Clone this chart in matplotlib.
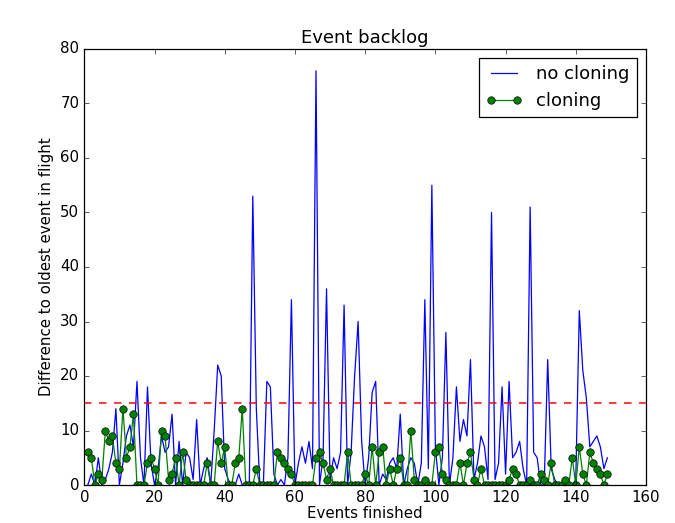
import matplotlib
matplotlib.use("Agg")
import matplotlib.pyplot as plt

plt.style.use("classic")

events = list(range(1, 150))

no_cloning = [
    0, 2, 0, 5, 0, 1, 3, 6, 14, 0,
    4, 9, 11, 7, 19, 5, 0, 18, 4, 0,
    3, 9, 6, 7, 13, 0, 8, 0, 6, 5,
    1, 12, 0, 3, 5, 0, 10, 22, 20, 3,
    1, 0, 0, 2, 0, 0, 0, 53, 14, 0,
    0, 19, 18, 2, 0, 1, 0, 5, 34, 0,
    4, 7, 4, 8, 3, 76, 0, 5, 36, 1,
    5, 3, 6, 33, 0, 6, 20, 30, 8, 0,
    5, 17, 19, 0, 2, 1, 4, 5, 3, 13,
    0, 3, 5, 4, 0, 4, 34, 3, 55, 7,
    0, 5, 28, 0, 5, 18, 8, 12, 9, 23,
    1, 4, 9, 7, 1, 50, 1, 4, 18, 2,
    19, 5, 6, 8, 3, 0, 51, 6, 5, 0,
    0, 23, 3, 1, 0, 0, 0, 0, 0, 1,
    32, 21, 16, 7, 8, 9, 7, 3, 5,
]

cloning = [
    6, 5, 0, 2, 1, 10, 8, 9, 4, 3,
    14, 5, 7, 13, 0, 0, 0, 4, 5, 3,
    0, 10, 9, 1, 2, 5, 0, 6, 1, 0,
    0, 0, 0, 0, 4, 0, 0, 8, 4, 7,
    0, 0, 4, 5, 14, 0, 0, 0, 3, 0,
    0, 0, 0, 0, 6, 5, 4, 3, 2, 0,
    0, 0, 0, 0, 0, 5, 6, 4, 1, 3,
    0, 0, 0, 0, 6, 0, 0, 0, 0, 2,
    0, 7, 0, 6, 7, 0, 3, 0, 3, 5,
    0, 0, 10, 1, 0, 0, 1, 0, 0, 6,
    7, 2, 1, 0, 0, 0, 4, 0, 4, 6,
    1, 0, 3, 0, 0, 0, 0, 0, 0, 0,
    1, 3, 2, 0, 0, 0, 1, 0, 0, 2,
    1, 0, 4, 0, 0, 0, 1, 0, 5, 0,
    7, 2, 0, 6, 4, 3, 2, 0, 2,
]

threshold = 15

fig = plt.figure(figsize=(7.5, 523 / 90), dpi=90)
ax = fig.add_axes([84.3 / 675, 1 - 485 / 523, (646 - 84.3) / 675, (485 - 49) / 523])

ax.plot(events, no_cloning, "b-", label="no cloning")
ax.plot(events, cloning, "go-", label="cloning")
ax.axhline(threshold, color="r", linestyle="--", linewidth=1.2)

ax.set_xlim(0, 160)
ax.set_ylim(0, 80)
ax.set_title("Event backlog")
ax.set_xlabel("Events finished", labelpad=1)
ax.set_ylabel("Difference to oldest event in flight")
ax.legend(loc="upper right")

fig.savefig("out.png", dpi=90, facecolor="white")
